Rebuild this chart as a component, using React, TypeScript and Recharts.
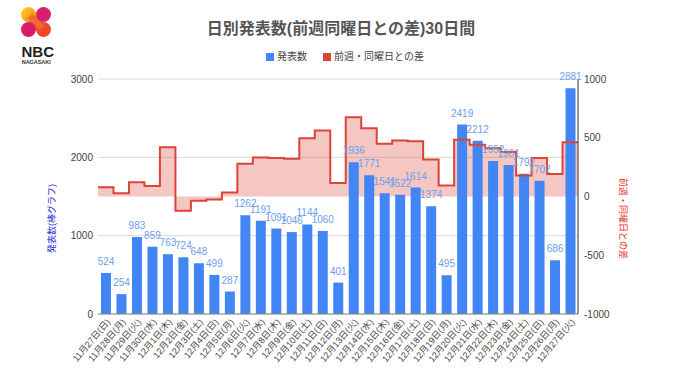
import React from 'react';
import {
  ComposedChart,
  Bar,
  Area,
  Line,
  XAxis,
  YAxis,
  CartesianGrid,
  LabelList,
  Legend,
} from 'recharts';

const dates = [
  '11月27日(日)', '11月28日(月)', '11月29日(火)', '11月30日(水)',
  '12月1日(木)', '12月2日(金)', '12月3日(土)', '12月4日(日)', '12月5日(月)',
  '12月6日(火)', '12月7日(水)', '12月8日(木)', '12月9日(金)', '12月10日(土)',
  '12月11日(日)', '12月12日(月)', '12月13日(火)', '12月14日(水)', '12月15日(木)',
  '12月16日(金)', '12月17日(土)', '12月18日(日)', '12月19日(月)', '12月20日(火)',
  '12月21日(水)', '12月22日(木)', '12月23日(金)', '12月24日(土)', '12月25日(日)',
  '12月26日(月)', '12月27日(火)',
];

const counts = [
  524, 254, 983, 859, 763, 724, 648, 499, 287, 1262, 1191, 1091, 1046, 1144, 1060,
  401, 1936, 1771, 1541, 1522, 1614, 1374, 495, 2419, 2212, 1952, 1901, 1792, 1702,
  686, 2881,
];

const diffs = [
  78, 27, 121, 90, 420, -121, -36, -25, 33, 279, 332, 328, 322, 496, 561,
  114, 674, 580, 450, 476, 470, 314, 94, 483, 441, 411, 379, 178, 328, 191, 462,
];

const leftTicks = [0, 1000, 2000, 3000];
const rightTicks = [-1000, -500, 0, 500, 1000];

const barData = dates.map((d, i) => ({ date: d, count: counts[i] }));
const stepData = diffs
  .map((v, i) => ({ x: i, diff: v }))
  .concat([{ x: diffs.length, diff: diffs[diffs.length - 1] }]);

const FONT = "Arial, 'Liberation Sans', 'Noto Sans CJK JP', sans-serif";
const BLUE = '#4285f4';
const RED = '#db4437';

const LegendContent = () => (
  <div
    style={{
      display: 'flex',
      alignItems: 'center',
      fontFamily: FONT,
      fontSize: 10,
      color: '#444',
      whiteSpace: 'nowrap',
      lineHeight: '12px',
    }}
  >
    <span style={{ display: 'inline-block', width: 8, height: 8, background: BLUE, marginRight: 3 }} />
    <span>発表数</span>
    <span style={{ display: 'inline-block', width: 8, height: 8, background: RED, marginLeft: 16, marginRight: 3 }} />
    <span>前週・同曜日との差</span>
  </div>
);

export default function App() {
  return (
    <div style={{ position: 'absolute', left: 0, top: 0, width: 680, height: 382, background: '#fff' }}>
      <svg
        width={680}
        height={382}
        style={{ position: 'absolute', left: 0, top: 0, pointerEvents: 'none' }}
      >
        <defs>
          <linearGradient id="tl" x1="0" y1="0" x2="1" y2="1">
            <stop offset="0%" stopColor="#fdd835" />
            <stop offset="100%" stopColor="#f57c00" />
          </linearGradient>
        </defs>
        <line x1={28.5} y1={14.5} x2={43.5} y2={29.5} stroke="#f05a28" strokeWidth={9} />
        <circle cx={28.5} cy={14.5} r={7.5} fill="url(#tl)" />
        <circle cx={43.5} cy={14.5} r={7.5} fill="#d8206f" />
        <circle cx={28.5} cy={29.5} r={7.5} fill="#d81b6a" />
        <circle cx={43.5} cy={29.5} r={7.5} fill="#ee4a2a" />
        <line x1={30} y1={16} x2={42} y2={28} stroke="#f26a2c" strokeWidth={6} />
        <text x={21.5} y={56.5} fontFamily={FONT} fontSize={15} fontWeight="bold" fill="#222">
          NBC
        </text>
        <text x={21.7} y={63.5} fontFamily={FONT} fontSize={5.5} fontWeight="bold" fill="#333" textLength={29}>
          NAGASAKI
        </text>
        <text
          x={341}
          y={33.5}
          textAnchor="middle"
          fontFamily={FONT}
          fontSize={16}
          fontWeight="bold"
          fill="#555"
        >
          日別発表数(前週同曜日との差)30日間
        </text>
      </svg>
      <ComposedChart
        width={680}
        height={382}
        data={barData}
        margin={{ top: 79, right: 0, bottom: 0, left: 0 }}
        style={{ fontFamily: FONT }}
      >
        <CartesianGrid yAxisId="left" xAxisId="cat" vertical={false} stroke="#d9d9d9" />
        <XAxis
          xAxisId="cat"
          dataKey="date"
          interval={0}
          height={68}
          tickLine={false}
          tickSize={2}
          tickMargin={2}
          axisLine={{ stroke: '#888' }}
          tick={{ fontSize: 9, fill: '#444', angle: -50, textAnchor: 'end' }}
        />
        <XAxis
          xAxisId="num"
          type="number"
          dataKey="x"
          domain={[0, dates.length]}
          allowDataOverflow
          hide
        />
        <YAxis
          yAxisId="left"
          width={98}
          domain={[0, 3000]}
          ticks={leftTicks}
          axisLine={false}
          tickLine={false}
          tickSize={0}
          tickMargin={5}
          tick={{ fontSize: 10, fill: '#444' }}
          label={{
            value: '発表数(棒グラフ)',
            angle: -90,
            position: 'center',
            dx: 3,
            dy: 22,
            fontSize: 9,
            fill: '#2b2bd6',
          }}
        />
        <YAxis
          yAxisId="right"
          orientation="right"
          width={102}
          domain={[-1000, 1000]}
          ticks={rightTicks}
          axisLine={{ stroke: '#333' }}
          tickLine={false}
          tickSize={0}
          tickMargin={6}
          tick={{ fontSize: 10, fill: '#444', textAnchor: 'start' }}
          label={{
            value: '前週・同曜日との差',
            angle: 90,
            position: 'center',
            dx: -6,
            dy: 22,
            fontSize: 9,
            fill: '#e8302a',
          }}
        />
        <Legend
          layout="horizontal"
          verticalAlign="middle"
          align="center"
          wrapperStyle={{ position: 'absolute', top: 51, left: 266, width: 200, height: 12 }}
          content={() => <LegendContent />}
        />
        <Area
          data={stepData}
          xAxisId="num"
          yAxisId="right"
          dataKey="diff"
          type="stepAfter"
          stroke="none"
          fill={RED}
          fillOpacity={0.3}
          isAnimationActive={false}
        />
        <Bar
          xAxisId="cat"
          yAxisId="left"
          dataKey="count"
          fill={BLUE}
          barSize={10}
          isAnimationActive={false}
        >
          <LabelList dataKey="count" position="top" offset={8} fill="#6d9eeb" fontSize={10} />
        </Bar>
        <Line
          data={stepData}
          xAxisId="num"
          yAxisId="right"
          dataKey="diff"
          type="stepAfter"
          stroke={RED}
          strokeWidth={2}
          dot={false}
          activeDot={false}
          isAnimationActive={false}
        />
      </ComposedChart>
    </div>
  );
}
